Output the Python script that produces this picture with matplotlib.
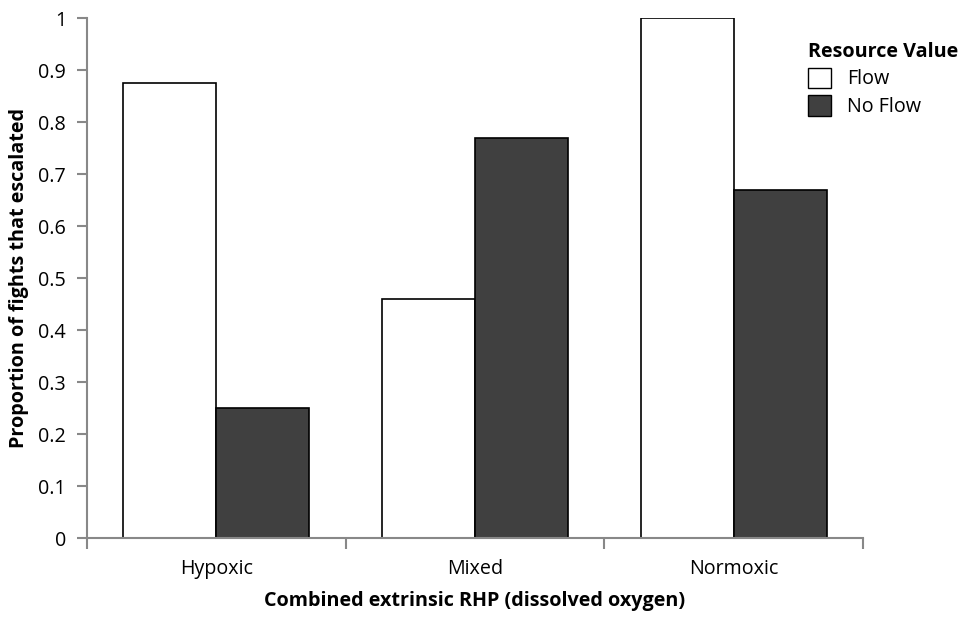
import matplotlib
matplotlib.use("Agg")
import matplotlib.pyplot as plt
import numpy as np
from matplotlib.patches import Patch

categories = ["Hypoxic", "Mixed", "Normoxic"]
flow = [0.875, 0.46, 1.0]
no_flow = [0.25, 0.77, 0.67]
yticks = [0, 0.1, 0.2, 0.3, 0.4, 0.5, 0.6, 0.7, 0.8, 0.9, 1]
ytick_labels = ["0", "0.1", "0.2", "0.3", "0.4", "0.5", "0.6", "0.7", "0.8", "0.9", "1"]

plt.rcParams['font.family'] = ['Open Sans', 'DejaVu Sans']
FS = 14.2

fig = plt.figure(figsize=(9.63, 6.19), dpi=100)
ax = fig.add_axes([87/963, 1 - 538/619, (863-87)/963, (538-18)/619])

x = np.arange(len(categories))
w = 0.36
ax.bar(x - w/2, flow, w, color="white", edgecolor="black", linewidth=1.2, label="Flow")
ax.bar(x + w/2, no_flow, w, color="#404040", edgecolor="black", linewidth=1.2, label="No Flow")

ax.set_xlim(-0.5, 2.5)
ax.set_ylim(0, 1)
ax.set_yticks(yticks)
ax.set_yticklabels(ytick_labels, fontsize=FS)
ax.set_xticks(np.arange(-0.5, 3, 1))
ax.set_xticklabels([])
ax.set_xticks(x, minor=True)
ax.set_xticklabels(categories, minor=True, fontsize=FS)
ax.tick_params(axis='x', which='minor', length=0, pad=15)
ax.tick_params(axis='x', which='major', length=8, width=1.5, color="#888888", direction='out')
ax.tick_params(axis='y', length=7, width=1.5, color="#888888", direction='out', pad=8)

for s in ["top", "right"]:
    ax.spines[s].set_visible(False)
for s in ["left", "bottom"]:
    ax.spines[s].set_color("#888888")
    ax.spines[s].set_linewidth(1.5)

ax.set_xlabel("Combined extrinsic RHP (dissolved oxygen)", fontsize=FS, fontweight="bold", labelpad=9)
ax.set_ylabel("Proportion of fights that escalated", fontsize=FS, fontweight="bold", labelpad=7)

handles = [Patch(facecolor="white", edgecolor="black", label="Flow"),
           Patch(facecolor="#404040", edgecolor="black", label="No Flow")]
leg = fig.legend(handles=handles, title="Resource Value", loc="upper left",
                 bbox_to_anchor=(790/963, 1 - 24/619), frameon=False, fontsize=FS,
                 title_fontproperties={'weight': 'bold', 'size': FS},
                 handlelength=1.2, handleheight=1.2, handletextpad=0.8, labelspacing=0.3)
leg._legend_box.align = "left"

fig.savefig("out.png", dpi=100)
